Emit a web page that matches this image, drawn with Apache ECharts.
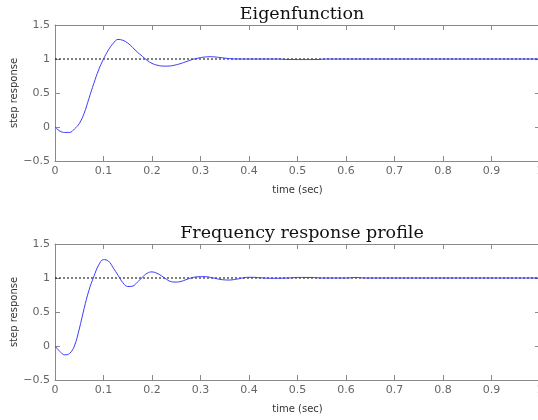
<!DOCTYPE html>
<html>
<head>
<meta charset="utf-8">
<title>Step response</title>
<script src="https://cdn.jsdelivr.net/npm/echarts@6/dist/echarts.min.js"></script>
<style>
  html, body { margin: 0; padding: 0; background: #fff; }
  #chart { width: 538px; height: 420px; }
</style>
</head>
<body>
<div id="chart"></div>
<script>
// 上：Eigenfunction 的阶跃响应
const eigTime = [0, 0.01, 0.02, 0.03, 0.04, 0.05, 0.06, 0.07, 0.08, 0.09,
  0.10, 0.11, 0.12, 0.13, 0.14, 0.15, 0.16, 0.17, 0.18, 0.19,
  0.20, 0.21, 0.22, 0.23, 0.24, 0.25, 0.26, 0.27, 0.28, 0.29,
  0.30, 0.31, 0.32, 0.33, 0.34, 0.35, 0.36, 0.37, 0.38, 0.40,
  0.46, 0.48, 0.51, 0.54, 0.56, 1.0];
const eigResp = [0, -0.06, -0.08, -0.08, -0.03, 0.05, 0.2, 0.42, 0.64, 0.84,
  1.0, 1.13, 1.23, 1.288, 1.275, 1.235, 1.17, 1.1, 1.04, 0.98,
  0.935, 0.91, 0.897, 0.895, 0.9, 0.915, 0.935, 0.96, 0.985, 1.005,
  1.02, 1.03, 1.034, 1.03, 1.022, 1.013, 1.006, 1.002, 1.0, 1.0,
  1.0, 0.992, 0.992, 0.992, 1.0, 1.0];

// 下：Frequency response profile 的阶跃响应
const freqTime = [0, 0.01, 0.02, 0.03, 0.04, 0.05, 0.06, 0.07, 0.08, 0.09,
  0.10, 0.11, 0.12, 0.13, 0.14, 0.15, 0.16, 0.17, 0.18, 0.19,
  0.20, 0.21, 0.22, 0.23, 0.24, 0.25, 0.26, 0.27, 0.28, 0.29,
  0.30, 0.31, 0.32, 0.33, 0.34, 0.35, 0.36, 0.37, 0.38, 0.39,
  0.40, 0.41, 0.42, 0.43, 0.45, 0.48, 0.50, 0.53, 0.55, 0.60, 0.62, 0.64, 1.0];
const freqResp = [0, -0.08, -0.13, -0.11, 0.0, 0.25, 0.55, 0.82, 1.02, 1.19,
  1.27, 1.25, 1.15, 1.04, 0.93, 0.875, 0.88, 0.94, 1.01, 1.07,
  1.09, 1.07, 1.03, 0.98, 0.945, 0.94, 0.95, 0.975, 1.0, 1.015,
  1.02, 1.02, 1.01, 0.995, 0.98, 0.972, 0.97, 0.978, 0.99, 1.005,
  1.01, 1.01, 1.005, 1.0, 0.996, 1.0, 1.008, 1.008, 1.0, 1.0, 1.008, 1.0, 1.0];

const refLine = [[0, 1], [1, 1]];

const titles = ["Eigenfunction", "Frequency response profile"];
const xTicks = { min: 0, max: 1, interval: 0.1 };
const yTicks = { min: -0.5, max: 1.5, interval: 0.5 };

// outerBoundsMode: none —— 关掉 v6 的自动收缩，保证绘图区宽度固定
const grids = [
  { left: 55, top: 25, width: 485, height: 136, outerBoundsMode: "none", containLabel: false },
  { left: 55, top: 244, width: 485, height: 136, outerBoundsMode: "none", containLabel: false },
];

const axisGray = "#8a8a8a";
const labelGray = "#666";
const fmt = (v) => String(+v.toFixed(2)).replace("-", "\u2212");

function xAxisFor(gridIndex, top) {
  return {
    type: "value",
    gridIndex,
    position: top ? "top" : "bottom",
    min: xTicks.min,
    max: xTicks.max,
    interval: xTicks.interval,
    name: top ? "" : "time (sec)",
    nameLocation: "middle",
    nameGap: 24,
    nameMoveOverlap: false,
    nameTextStyle: { color: "#333", fontSize: 10, fontFamily: "DejaVu Sans" },
    axisLine: { show: true, onZero: false, lineStyle: { color: axisGray, width: 1 } },
    axisTick: { show: true, inside: true, length: 5, lineStyle: { color: axisGray } },
    axisLabel: {
      show: !top,
      color: labelGray,
      fontSize: 11,
      fontFamily: "DejaVu Sans",
      margin: 5,
      showMaxLabel: true,
      formatter: fmt,
    },
    splitLine: { show: false },
  };
}

function yAxisFor(gridIndex, right) {
  return {
    type: "value",
    gridIndex,
    position: right ? "right" : "left",
    min: yTicks.min,
    max: yTicks.max,
    interval: yTicks.interval,
    name: right ? "" : "step response",
    nameLocation: "middle",
    nameGap: 36,
    nameRotate: 90,
    nameMoveOverlap: false,
    nameTextStyle: { color: "#333", fontSize: 10, fontFamily: "DejaVu Sans" },
    axisLine: { show: true, onZero: false, lineStyle: { color: axisGray, width: 1 } },
    axisTick: { show: true, inside: true, length: 5, lineStyle: { color: axisGray } },
    axisLabel: {
      show: !right,
      color: labelGray,
      fontSize: 11,
      fontFamily: "DejaVu Sans",
      margin: 5,
      formatter: fmt,
    },
    splitLine: { show: false },
  };
}

const xAxes = [];
const yAxes = [];
grids.forEach((g, i) => {
  xAxes.push(xAxisFor(i, false), xAxisFor(i, true));
  yAxes.push(yAxisFor(i, false), yAxisFor(i, true));
});

function pairs(ts, vs) {
  return ts.map((t, i) => [t, vs[i]]);
}

const series = [];
[pairs(eigTime, eigResp), pairs(freqTime, freqResp)].forEach((data, i) => {
  series.push({
    type: "line",
    xAxisIndex: i * 2,
    yAxisIndex: i * 2,
    data: refLine,
    symbol: "none",
    silent: true,
    lineStyle: { color: "#000", width: 1, type: [2, 2] },
    z: 2,
  });
  series.push({
    type: "line",
    xAxisIndex: i * 2,
    yAxisIndex: i * 2,
    data,
    symbol: "none",
    smooth: 0.4,
    silent: true,
    lineStyle: { color: "#3c3cff", width: 1 },
    z: 3,
  });
});

const chart = echarts.init(document.getElementById("chart"), null, { renderer: "canvas" });
chart.setOption({
  animation: false,
  backgroundColor: "#fff",
  title: titles.map((text, i) => ({
    text,
    left: 297,
    top: i === 0 ? 0 : 219,
    textAlign: "center",
    textStyle: { fontFamily: "DejaVu Serif", fontSize: 17.5, fontWeight: "normal", color: "#111" },
  })),
  grid: grids,
  xAxis: xAxes,
  yAxis: yAxes,
  series,
});
</script>
</body>
</html>
